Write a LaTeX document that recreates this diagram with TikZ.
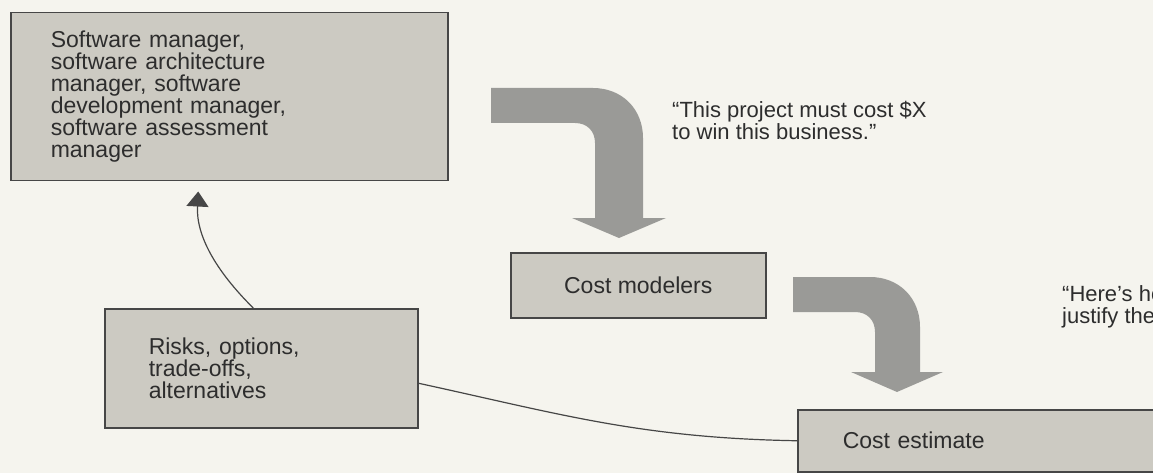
\documentclass[tikz,border=0pt]{standalone}
\usepackage{fontspec}
\setmainfont{Liberation Sans}
\usetikzlibrary{arrows.meta}
\definecolor{bg}{RGB}{245,244,238}
\definecolor{boxfill}{RGB}{204,202,194}
\definecolor{boxline}{RGB}{70,70,70}
\definecolor{arrowfill}{RGB}{154,154,151}
\definecolor{ink}{RGB}{45,45,45}
\tikzset{
  box/.style={draw=boxline, line width=1.5pt, fill=boxfill, text=ink,
    font=\fontsize{23}{22}\selectfont, inner ysep=0pt, anchor=north west},
  quotetext/.style={text=ink, font=\fontsize{22}{22}\selectfont, align=left,
    inner sep=0pt, anchor=north west},
  link/.style={draw=boxline, line width=1.2pt},
  bigarrow/.style={fill=arrowfill}
}
\begin{document}
\begin{tikzpicture}[x=1pt,y=-1pt]
\useasboundingbox (0,0) rectangle (1153,473);
\clip (0,0) rectangle (1153,473);
\fill[bg] (0,0) rectangle (1153,473);

% boxes
\node[box, minimum width=437pt, minimum height=168pt, text width=357pt,
  inner xsep=40pt, align=left] (mgr) at (10,12)
  {Software manager,\\ software architecture\\ manager, software\\ development manager,\\ software assessment\\ manager};
\node[box, minimum width=255pt, minimum height=65pt, align=center] (mod) at (510,252) {Cost modelers};
\node[box, minimum width=313pt, minimum height=119pt, text width=225pt,
  inner xsep=44pt, align=left] (risk) at (104,308)
  {Risks, options,\\ trade-offs,\\ alternatives};
\node[box, minimum width=410pt, minimum height=62pt, text width=320pt,
  inner xsep=45pt, align=left] (est) at (797,409) {Cost estimate};

% quotes
\node[quotetext] (q1) at (672,101) {“This project must cost \$X\\ to win this business.”};
\node[quotetext] (q2) at (1062,285) {“Here's how to\\ justify the price.”};

% big bent arrows
\fill[bigarrow] (491,88) -- (593,88) .. controls (622,88) and (643,109) .. (643,138)
  -- (643,218) -- (666,218) -- (619,238) -- (572,218) -- (595,218) -- (595,143)
  .. controls (595,131) and (587,123) .. (575,123) -- (491,123) -- cycle;
\fill[bigarrow] (793,277) -- (870,277) .. controls (899,277) and (920,298) .. (920,327)
  -- (920,372) -- (943,372) -- (897,392) -- (851,372) -- (875,372) -- (875,332)
  .. controls (875,320) and (867,312) .. (855,312) -- (793,312) -- cycle;

% connectors
\draw[link, -{Triangle[length=15pt,width=22pt]}] ([xshift=-8pt]risk.north)
  .. controls (215,270) and (196,235) .. ([xshift=-31pt,yshift=-10pt]mgr.south);
\draw[link] ([yshift=-15pt]risk.east) .. controls (560,414) and (640,438) .. (est.west);
\end{tikzpicture}
\end{document}
